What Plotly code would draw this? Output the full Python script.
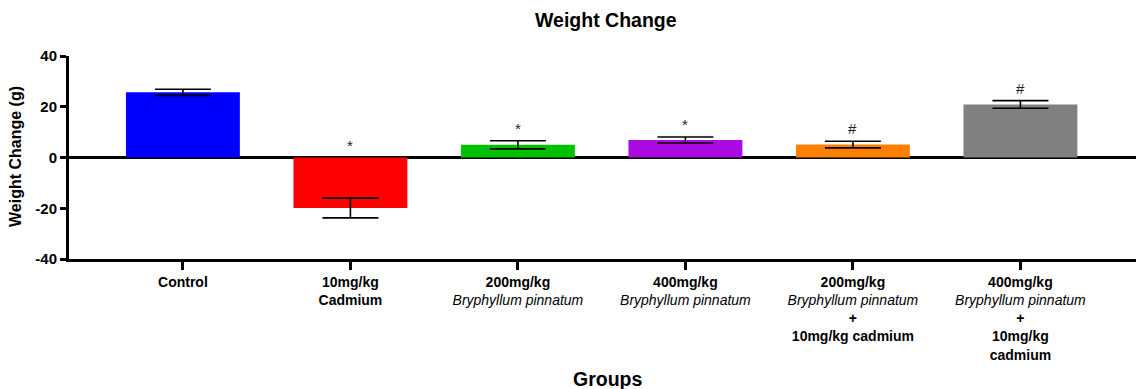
import plotly.graph_objects as go

categories = [
    "<b>Control</b>",
    "<b>10mg/kg<br>Cadmium</b>",
    "<b>200mg/kg</b><br><i>Bryphyllum pinnatum</i>",
    "<b>400mg/kg</b><br><i>Bryphyllum pinnatum</i>",
    "<b>200mg/kg</b><br><i>Bryphyllum pinnatum</i><br><b>+</b><br><b>10mg/kg cadmium</b>",
    "<b>400mg/kg</b><br><i>Bryphyllum pinnatum</i><br><b>+</b><br><b>10mg/kg</b><br><b>cadmium</b>",
]
values = [25.7, -19.9, 5.0, 6.9, 5.1, 20.9]
errors = [1.2, 3.9, 1.6, 1.2, 1.3, 1.5]
sig_labels = ["", "*", "*", "*", "#", "#"]
colors = ["#0000FF", "#FF0000", "#00C000", "#A90BE0", "#FF8000", "#808080"]
y_ticks = [-40, -20, 0, 20, 40]

FONT = "Liberation Sans, Arial, sans-serif"
xpos = list(range(len(categories)))

W, H = 1136, 389
L, R, T, B = 69, 0, 56, 130
PW, PH = W - L - R, H - T - B


def px_to_paper_x(px):
    return (px - L) / PW


def px_to_paper_y(py):
    return (H - B - py) / PH


fig = go.Figure()
fig.add_trace(go.Bar(
    x=xpos, y=values, width=0.68,
    marker=dict(color=colors, line=dict(width=0)),
    error_y=dict(type="data", array=errors, visible=True,
                 color="black", thickness=1.6, width=28),
    showlegend=False,
))

for i, (v, e, s) in enumerate(zip(values, errors, sig_labels)):
    if not s:
        continue
    top = max(v + e, 0)
    fig.add_annotation(x=i, y=top, text=s, showarrow=False,
                       yanchor="bottom", yshift=2,
                       font=dict(family=FONT, size=15, color="#222"))

# titles
fig.add_annotation(text="<b>Weight Change</b>", xref="paper", yref="paper",
                   x=px_to_paper_x(606), y=px_to_paper_y(20), showarrow=False,
                   xanchor="center", yanchor="middle",
                   font=dict(size=19.5, family=FONT, color="black"))
fig.add_annotation(text="<b>Groups</b>", xref="paper", yref="paper",
                   x=px_to_paper_x(607), y=px_to_paper_y(379), showarrow=False,
                   xanchor="center", yanchor="middle",
                   font=dict(size=19.5, family=FONT, color="black"))
fig.add_annotation(text="<b>Weight Change (g)</b>", xref="paper", yref="paper",
                   x=px_to_paper_x(15), y=px_to_paper_y(157), showarrow=False,
                   xanchor="center", yanchor="middle", textangle=-90,
                   font=dict(size=16, family=FONT, color="black"))

fig.update_layout(
    width=W, height=H,
    margin=dict(l=L, r=R, t=T, b=B, autoexpand=False),
    paper_bgcolor="white", plot_bgcolor="white",
    font=dict(family=FONT, color="black"),
    hovermode=False,
)
fig.update_xaxes(
    range=[-0.68, 5.69], tickvals=xpos, ticktext=categories,
    showline=True, linecolor="black", linewidth=3,
    ticks="outside", ticklen=8, tickwidth=3, tickcolor="black",
    tickfont=dict(size=14, family=FONT, color="black"),
    showgrid=False, zeroline=False, automargin=False,
)
fig.update_yaxes(
    range=[-40, 40], tickvals=y_ticks, ticktext=[f"<b>{t}</b>" for t in y_ticks],
    showline=True, linecolor="black", linewidth=3,
    ticks="outside", ticklen=6, tickwidth=3, tickcolor="black",
    tickfont=dict(size=15, family=FONT, color="black"),
    showgrid=False, zeroline=True, zerolinecolor="black", zerolinewidth=3,
    automargin=False,
)

fig.write_html("out.html",
               config={"displayModeBar": False, "staticPlot": True},
               post_script="document.body.style.margin='0';document.body.style.overflow='hidden';")
